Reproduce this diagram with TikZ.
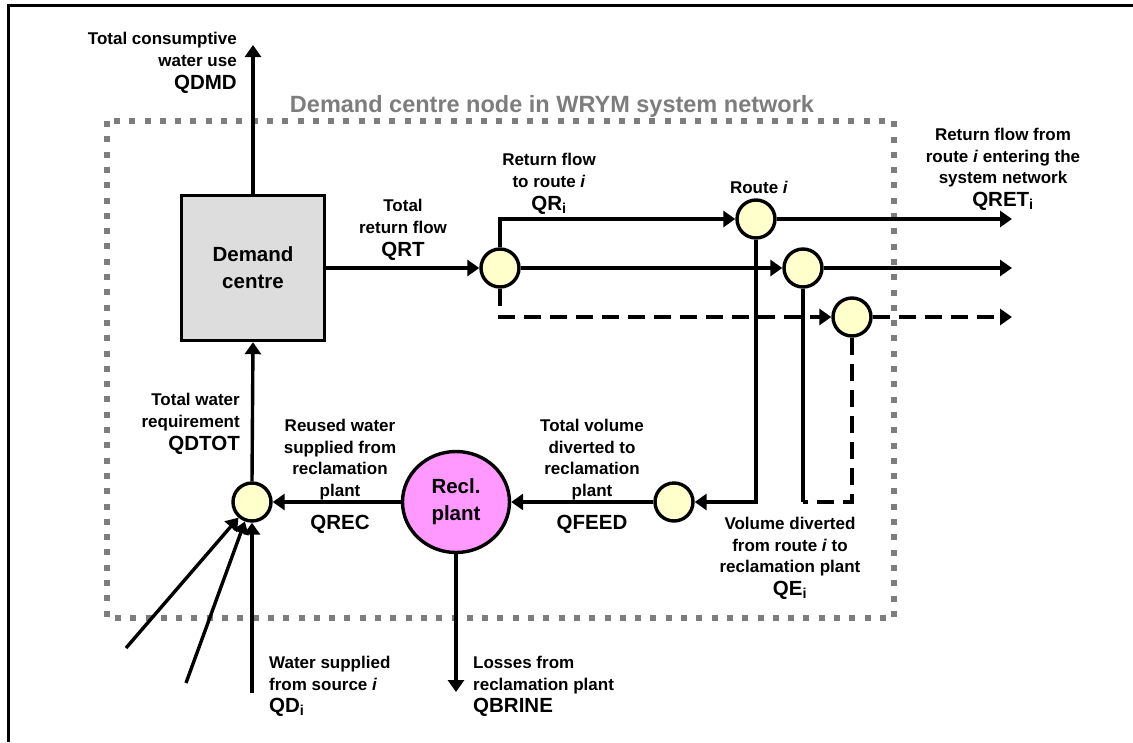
\documentclass[tikz,border=0pt]{standalone}
\usepackage{fontspec}
\setmainfont{Liberation Sans}
\usetikzlibrary{arrows.meta,shapes.geometric}

\definecolor{boxgray}{RGB}{221,221,221}
\definecolor{netgray}{RGB}{125,125,125}
\definecolor{reclpink}{RGB}{255,153,255}
\definecolor{nodeyellow}{RGB}{255,255,204}

\newcommand{\flowtext}{\fontsize{17}{21.5}\selectfont\bfseries}
\newcommand{\flowcode}{\fontsize{20.5}{23}\selectfont\bfseries}
\newcommand{\boxtext}{\fontsize{20.5}{27}\selectfont\bfseries}
\newcommand{\titletext}{\fontsize{23.5}{28}\selectfont\bfseries}

\begin{document}
\begin{tikzpicture}[x=1pt,y=-1pt,
		flow/.style={line width=3.4pt,-{Triangle[length=12pt,width=16pt]}},
		pipe/.style={line width=3.4pt},
		dpipe/.style={line width=3.4pt,dash pattern=on 17pt off 9pt},
		junction/.style={circle,draw,line width=3.4pt,fill=nodeyellow,minimum size=38pt,inner sep=0pt},
		note/.style={font=\flowtext,inner sep=0pt,align=center}]
		\useasboundingbox (0,0) rectangle (1133,742);
		\draw[line width=3pt] (8,742) -- (8,5) -- (1133,5);    % frame
		
		% boundary of the demand centre node
		\draw[netgray, line width=6pt, dash pattern=on 6pt off 9.3pt] (107,121) rectangle (894,618);
		\node[note, font=\titletext, text=netgray, anchor=north] (title) at (552,95) {Demand centre node in WRYM system network};
		
		% nodes
		\node[draw, line width=3.4pt, fill=boxgray, minimum width=143pt, minimum height=145pt, font=\boxtext, align=center] (dc) at (253,268) {Demand\\centre};
		\node[junction] (split) at (500,268) {};
		\node[junction] (route1) at (756,219) {};
		\node[junction] (route2) at (803,268) {};
		\node[junction] (route3) at (852,317) {};
		\node[junction] (feed) at (674,502) {};
		\node[junction] (supply) at (252,502) {};
		\node[ellipse, draw, line width=3.4pt, fill=reclpink, minimum width=107pt, minimum height=101pt, font=\boxtext, align=center] (recl) at (456,502) {Recl.\\plant};
		
		% free ends
		\coordinate (use) at (253,45);
		\coordinate (ret1) at (1012,219);
		\coordinate (ret2) at (1012,268);
		\coordinate (ret3) at (1012,317);
		\coordinate (brine) at (456,692);
		\coordinate (src1) at (126,648);
		\coordinate (src2) at (186,683);
		\coordinate (src3) at (252,693);
		
		% return flows
		\draw[flow] (dc.north) -- (use);
		\draw[flow] (dc.east) -- (split.west);
		\draw[flow] (split.north) |- (route1.west);
		\draw[flow] (split.east) -- (route2.west);
		\draw[flow, dpipe] (split.south) |- (route3.west);
		\draw[flow] (route1.east) -- (ret1);
		\draw[flow] (route2.east) -- (ret2);
		\draw[flow, dpipe] (route3.east) -- (ret3);
		
		% diversions to the reclamation plant
		\draw[flow] (route1.south) |- (feed.east);
		\draw[pipe] (route2.south) -- (route2.south |- feed.east);
		\draw[dpipe] (route3.south) |- (route2.south |- feed.east);
		\draw[flow] (feed.west) -- (recl.east);
		\draw[flow] (recl.west) -- (supply.east);
		\draw[flow] (recl.south) -- (brine);
		
		% supply
		\draw[flow] (supply.north) -- (dc.south);
		\foreach \s in {src1,src2,src3}
			\draw[flow] (\s) -- (supply);
		
		% labels
		\node[note, anchor=north east, align=right] (qdmd) at (237,32) {Total consumptive\\water use\\[2pt]{\flowcode QDMD}};
		\node[note, anchor=north] (qrt) at (403,199) {Total\\return flow\\[2pt]{\flowcode QRT}};
		\node[note, anchor=north] (qr) at (549,153) {Return flow\\to route \textit{i}\\[2pt]{\flowcode QR\textsubscript{i}}};
		\node[note, anchor=north] (routelbl) at (759,181) {Route \textit{i}};
		\node[note, anchor=north] (qret) at (1003,128) {Return flow from\\route \textit{i} entering the\\system network\\[1pt]{\flowcode QRET\textsubscript{i}}};
		\node[note, anchor=north east, align=right] (qdtot) at (240,393) {Total water\\requirement\\[2pt]{\flowcode QDTOT}};
		\node[note, anchor=north] (reuse) at (340,419) {Reused water\\supplied from\\reclamation\\plant};
		\node[note, anchor=north, font=\flowcode] (qrec) at (340,515) {QREC};
		\node[note, anchor=north] (feedlbl) at (592,419) {Total volume\\diverted to\\reclamation\\plant};
		\node[note, anchor=north, font=\flowcode] (qfeed) at (592,515) {QFEED};
		\node[note, anchor=north] (qe) at (790,517) {Volume diverted\\from route \textit{i} to\\reclamation plant\\[1pt]{\flowcode QE\textsubscript{i}}};
		\node[note, anchor=north west, align=left] (qd) at (269,656) {Water supplied\\from source \textit{i}\\[1pt]{\flowcode QD\textsubscript{i}}};
		\node[note, anchor=north west, align=left] (qbrine) at (473,656) {Losses from\\reclamation plant\\[1pt]{\flowcode QBRINE}};
	\end{tikzpicture}
\end{document}
